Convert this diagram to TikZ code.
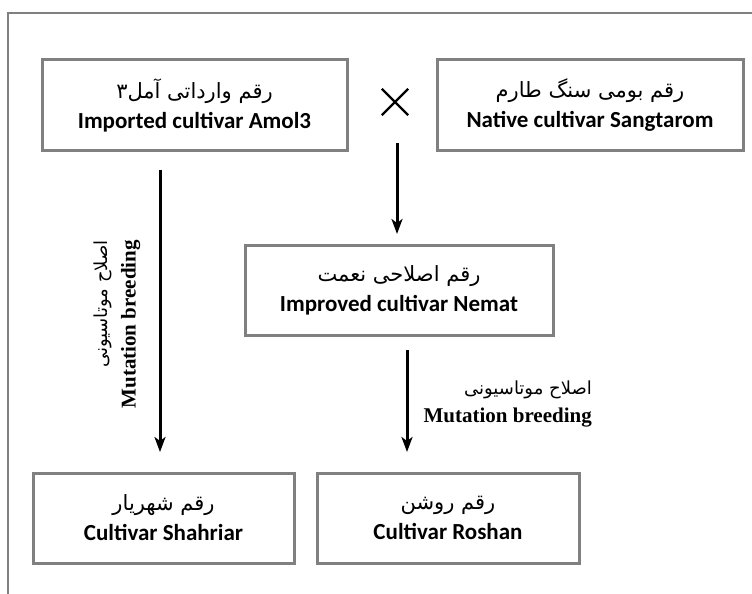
\documentclass[tikz,border=0pt]{standalone}
\usepackage{fontspec}
\usepackage{tikz}
\usetikzlibrary{arrows,arrows.meta,positioning,calc}
\TeXXeTstate=1
\setmainfont{Carlito}
\newfontfamily\fa[Script=Arabic]{DejaVu Sans}
\newfontfamily\lab{Liberation Serif}
\tikzstyle{cB}=[rectangle,draw=black!50,line width=3pt,fill=white,align=center,inner sep=0pt,minimum height=90pt,font=\fontsize{23}{30}\selectfont]
\tikzstyle{eMut}=[line width=3pt,-{Stealth[length=15pt,width=11pt,inset=4pt]}]
\tikzstyle{lMut}=[align=right,inner sep=0pt,font=\fontsize{21}{28}\selectfont]
\newcommand{\fatxt}[1]{{\fa\fontsize{21}{30}\selectfont\beginR #1\endR}}

\begin{document}
\begin{tikzpicture}[x=1pt,y=-1pt]
                \useasboundingbox (0,0) rectangle (752,594);
                \draw[black!50,line width=1.5pt] (8,594) -- (8,13) -- (752,13);
                \draw (194.5,105) node[cB,minimum width=305pt] (amol) {\fatxt{رقم وارداتی آمل۳}\\ \textbf{Imported cultivar Amol3}};
                \draw (590,105) node[cB,minimum width=306pt] (sang) {\fatxt{رقم بومی سنگ طارم}\\ \textbf{Native cultivar Sangtarom}};
                \draw (395,102) node[inner sep=0pt,minimum size=26pt] (cross) {};
                \draw[line width=2.2pt] (cross.north west) -- (cross.south east) (cross.north east) -- (cross.south west);
                \draw (399,290) node[cB,minimum width=308pt] (nemat) {\fatxt{رقم اصلاحی نعمت}\\ \textbf{Improved cultivar Nemat}};
                \draw (163.5,518) node[cB,minimum width=261pt] (shahr) {\fatxt{رقم شهریار}\\ \textbf{Cultivar Shahriar}};
                \draw (448,518) node[cB,minimum width=262pt] (roshan) {\fatxt{رقم روشن}\\ \textbf{Cultivar Roshan}};
                % arrow ends
                \coordinate (a0) at (160,170);
                \coordinate (a1) at (160,452);
                \coordinate (b0) at (397,143);
                \coordinate (b1) at (397,234);
                \coordinate (c0) at (407,350);
                \coordinate (c1) at (407,452);
                \draw[eMut] (a0) -- (a1);
                \draw[eMut] (b0) -- (b1);
                \draw[eMut] (c0) -- (c1);
                \node[lMut,rotate=90,anchor=east] (mutL) at (117,240) {{\fa\fontsize{18}{28}\selectfont\beginR اصلاح موتاسیونی\endR}\\ {\lab\bfseries Mutation breeding}};
                \node[lMut,anchor=east] (mutR) at (592,404) {{\fa\fontsize{18}{28}\selectfont\beginR اصلاح موتاسیونی\endR}\\ {\lab\bfseries Mutation breeding}};
        \end{tikzpicture}
\end{document}
